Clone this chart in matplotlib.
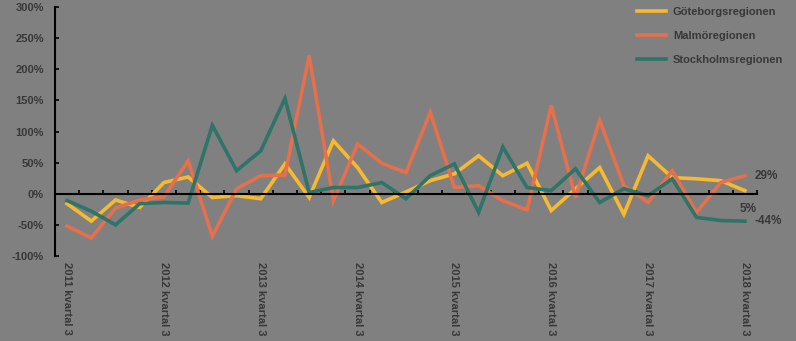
import matplotlib.pyplot as plt

plt.rcParams['font.family'] = ['Liberation Sans', 'DejaVu Sans']
plt.rcParams['font.weight'] = 'bold'

# Kvartal 3 2011 .. kvartal 3 2018, förändring mot föregående kvartal (%)
quarters = list(range(29))
tick_labels = ["2011 kvartal 3", "2012 kvartal 3", "2013 kvartal 3", "2014 kvartal 3",
               "2015 kvartal 3", "2016 kvartal 3", "2017 kvartal 3", "2018 kvartal 3"]

goteborg = [-16, -44, -10, -22, 18, 27, -6, -3, -8, 48,
            -6, 85, 42, -14, 3, 21, 32, 61, 29, 49,
            -27, 8, 42, -33, 61, 26, 24, 21, 5]
malmo = [-52, -71, -23, -10, -5, 53, -68, 8, 29, 30,
         222, -11, 80, 49, 34, 131, 10, 13, -11, -26,
         142, -6, 118, 13, -14, 37, -30, 18, 29]
stockholm = [-11, -28, -50, -16, -14, -15, 110, 37, 69, 153,
             2, 10, 10, 18, -8, 29, 48, -30, 75, 10,
             5, 40, -14, 8, -3, 24, -38, -43, -44]

series = [("Göteborgsregionen", goteborg, "#f7b92f"),
          ("Malmöregionen", malmo, "#e5704b"),
          ("Stockholmsregionen", stockholm, "#2e7469")]

bg = "#808080"
txt = "#383838"

fig = plt.figure(figsize=(7.96, 3.41), dpi=100, facecolor=bg)
ax = fig.add_axes([55 / 796, 1 - 256 / 341, 702 / 796, 249 / 341], facecolor=bg)

for name, vals, col in series:
    ax.plot(quarters, vals, color=col, lw=2.6, label=name, solid_joinstyle="miter")

# end-of-series labels
offsets = {"Göteborgsregionen": (-4, -13), "Malmöregionen": (7, 0), "Stockholmsregionen": (7, 0)}
for name, vals, col in series:
    dx, dy = offsets[name]
    ax.annotate(f"{vals[-1]}%", xy=(quarters[-1], vals[-1]), xytext=(dx, dy),
                textcoords="offset points", ha="left", va="center",
                fontsize=8.5, color=txt)

ax.set_xlim(-0.5, 28.5)
ax.set_ylim(-100, 300)
ax.set_yticks(range(-100, 301, 50))
ax.set_yticklabels([f"{v}%" for v in range(-100, 301, 50)])

ax.spines["top"].set_visible(False)
ax.spines["right"].set_visible(False)
ax.spines["left"].set_color("black")
ax.spines["left"].set_linewidth(1.5)
ax.spines["bottom"].set_position(("data", 0))
ax.spines["bottom"].set_color("black")
ax.spines["bottom"].set_linewidth(1.5)

ax.set_xticks(quarters[::4])
ax.set_xticklabels(tick_labels, rotation=-90, va="top", ha="center")
ax.set_xticks([q - 0.5 for q in quarters] + [28.5], minor=True)
ax.tick_params(axis="x", which="major", length=0, pad=49, labelsize=8, labelcolor=txt)
ax.tick_params(axis="x", which="minor", direction="in", length=3, width=1.2, color="black")
ax.tick_params(axis="y", direction="in", length=3, width=1.2, color="black",
               labelsize=8, labelcolor=txt, pad=8)

leg = ax.legend(loc="upper left", bbox_to_anchor=(630 / 796, 1.0), bbox_transform=fig.transFigure,
                frameon=False, fontsize=8, labelcolor=txt, handlelength=2.6,
                handletextpad=0.6, labelspacing=1.25, borderaxespad=0.25)

fig.savefig("out.png", dpi=100, facecolor=bg)
